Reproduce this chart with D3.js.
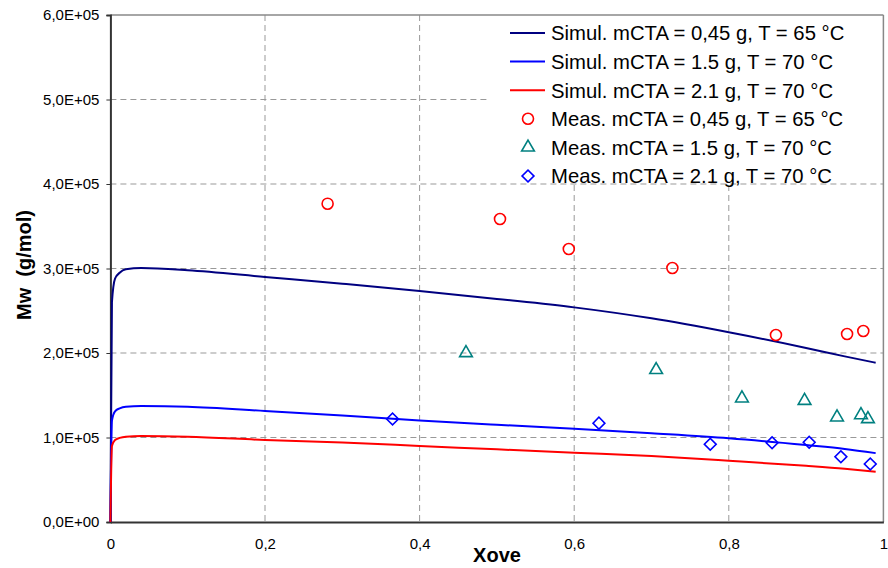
<!DOCTYPE html>
<html>
<head>
<meta charset="utf-8">
<script src="https://cdn.jsdelivr.net/npm/d3@7"></script>
<style>
  body { margin: 0; background: #fff; }
  text { font-family: "Liberation Sans", Arial, sans-serif; }
</style>
</head>
<body>
<div id="chart"></div>
<script>
// simulated curves (shared conversion grid)
var simX = [0, 0.002, 0.006, 0.012, 0.02, 0.04, 0.1, 0.2, 0.3, 0.4, 0.5, 0.6, 0.7, 0.8, 0.9, 0.95, 0.99];
var sim045 = [0, 260000, 288000, 295000, 299000, 300500, 298000, 290000, 282000, 273500, 264000, 254000, 241000, 224500, 206000, 196000, 188500];
var sim15  = [0, 120000, 131000, 134500, 136500, 137300, 136500, 131400, 126000, 120000, 115000, 110500, 105000, 99000, 91000, 86500, 81500];
var sim21  = [0, 90000, 97000, 99500, 101000, 101800, 101000, 97000, 94000, 90000, 86000, 82000, 78000, 72500, 66500, 63000, 59500];

// measurements
var meas045X = [0.281, 0.504, 0.593, 0.727, 0.861, 0.953, 0.974];
var meas045Y = [376700, 358600, 323100, 300600, 221300, 222500, 226000];
var meas15X  = [0.46, 0.706, 0.817, 0.898, 0.940, 0.971, 0.980];
var meas15Y  = [200000, 180000, 146400, 143600, 123900, 126600, 121900];
var meas21X  = [0.365, 0.632, 0.776, 0.856, 0.904, 0.945, 0.983];
var meas21Y  = [121900, 117000, 92000, 93800, 94300, 77300, 68600];

var xTicks = [0, 0.2, 0.4, 0.6, 0.8, 1];
var yTicks = [0, 100000, 200000, 300000, 400000, 500000, 600000];

var legendLabels = [
    "Simul. mCTA = 0,45 g, T = 65 °C",
    "Simul. mCTA = 1.5 g, T = 70 °C",
    "Simul. mCTA = 2.1 g, T = 70 °C",
    "Meas. mCTA = 0,45 g, T = 65 °C",
    "Meas. mCTA = 1.5 g, T = 70 °C",
    "Meas. mCTA = 2.1 g, T = 70 °C"
];

var W = 888, H = 568;
var margin = {top: 15, right: 4.6, bottom: 46, left: 110.4};
var w = W - margin.left - margin.right, h = H - margin.top - margin.bottom;

var svg = d3.select("#chart").append("svg")
    .attr("width", W).attr("height", H);
var g = svg.append("g")
    .attr("transform", "translate(" + margin.left + "," + margin.top + ")");

var x = d3.scaleLinear().domain([0, 1]).range([0, w]);
var y = d3.scaleLinear().domain([0, 600000]).range([h, 0]);

var fmtX = function (d) { return d === 0 || d === 1 ? String(d) : d3.format(".1f")(d).replace(".", ","); };
var fmtY = function (d) {
    if (d === 0) return "0,0E+00";
    return (d / 100000).toFixed(1).replace(".", ",") + "E+05";
};

// grid
g.append("g").selectAll("line").data(yTicks.slice(1, -1)).enter().append("line")
    .attr("x1", 0).attr("x2", w)
    .attr("y1", function (d) { return y(d); }).attr("y2", function (d) { return y(d); })
    .attr("stroke", "#999").attr("stroke-dasharray", "6,4");
g.append("g").selectAll("line").data(xTicks.slice(1, -1)).enter().append("line")
    .attr("y1", 0).attr("y2", h)
    .attr("x1", function (d) { return x(d); }).attr("x2", function (d) { return x(d); })
    .attr("stroke", "#999").attr("stroke-dasharray", "6,4");

// legend background hides grid
var lg = g.append("g").attr("transform", "translate(" + (487 - margin.left) + ",0)");
lg.append("rect").attr("x", 0).attr("y", 0)
    .attr("width", w - (487 - margin.left)).attr("height", 183 - margin.top)
    .attr("fill", "#fff");

// frame top / right
g.append("line").attr("x1", 0).attr("x2", w).attr("y1", 0).attr("y2", 0)
    .attr("stroke", "#888").attr("stroke-width", 1.5);
g.append("line").attr("x1", w).attr("x2", w).attr("y1", 0).attr("y2", h)
    .attr("stroke", "#888").attr("stroke-width", 1.5);

// axes
var yAxis = g.append("g")
    .call(d3.axisLeft(y).tickValues(yTicks).tickFormat(fmtY).tickSize(4).tickPadding(7));
var xAxis = g.append("g").attr("transform", "translate(0," + h + ")")
    .call(d3.axisBottom(x).tickValues(xTicks).tickFormat(fmtX).tickSize(0).tickPadding(16));
[yAxis, xAxis].forEach(function (a) {
    a.select(".domain").attr("stroke", "#333").attr("stroke-width", 2);
    a.selectAll(".tick line").attr("stroke", "#333");
    a.selectAll(".tick text").attr("font-size", 15).attr("fill", "#000");
});

// simulated lines
var colors = ["#000080", "#0000ff", "#ff0000"];
var sims = [sim045, sim15, sim21];
var line = d3.line()
    .x(function (d, i) { return x(simX[i]); })
    .y(function (d) { return y(d); })
    .curve(d3.curveMonotoneX);
sims.forEach(function (s, k) {
    g.append("path").datum(s).attr("d", line)
        .attr("fill", "none").attr("stroke", colors[k]).attr("stroke-width", 2);
});

// markers
var symCircle = d3.symbol().type(d3.symbolCircle).size(95);
var symTri = d3.symbol().type(d3.symbolTriangle).size(70);
var symDia = d3.symbol().type(d3.symbolSquare).size(70);
var measSets = [
    {xs: meas045X, ys: meas045Y, sym: symCircle, color: "#ff0000", rot: 0},
    {xs: meas15X, ys: meas15Y, sym: symTri, color: "#008080", rot: 0},
    {xs: meas21X, ys: meas21Y, sym: symDia, color: "#0000ff", rot: 45}
];
measSets.forEach(function (m) {
    g.append("g").selectAll("path").data(m.xs).enter().append("path")
        .attr("d", m.sym())
        .attr("transform", function (d, i) {
            return "translate(" + x(d) + "," + y(m.ys[i]) + ") rotate(" + m.rot + ")";
        })
        .attr("fill", "none").attr("stroke", m.color).attr("stroke-width", 1.6);
});

// legend entries
var rowY = [33, 61.6, 90.2, 118.8, 147.4, 176];
legendLabels.forEach(function (lab, i) {
    var ry = rowY[i] - margin.top;
    if (i < 3) {
        lg.append("line").attr("x1", 510 - 487).attr("x2", 545 - 487)
            .attr("y1", ry).attr("y2", ry)
            .attr("stroke", colors[i]).attr("stroke-width", 2);
    } else {
        var m = measSets[i - 3];
        lg.append("path").attr("d", m.sym())
            .attr("transform", "translate(" + (528 - 487) + "," + ry + ") rotate(" + m.rot + ")")
            .attr("fill", "none").attr("stroke", m.color).attr("stroke-width", 1.6);
    }
    lg.append("text").attr("x", 551 - 487).attr("y", ry).attr("dy", "0.36em")
        .style("font-size", "20.3px").text(lab);
});

// axis titles
svg.append("text").attr("x", 497).attr("y", 562)
    .attr("text-anchor", "middle").style("font-size", "20px").attr("font-weight", "bold")
    .text("Xove");
svg.append("text")
    .attr("transform", "translate(31,265) rotate(-90)")
    .attr("text-anchor", "middle").style("font-size", "20px").attr("font-weight", "bold")
    .style("white-space", "pre")
    .text("Mw  (g/mol)");
</script>
</body>
</html>
